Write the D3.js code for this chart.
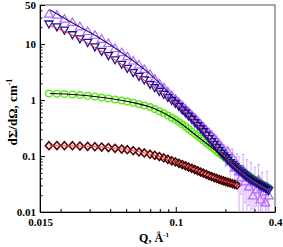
<!doctype html>
<html>
<head>
<meta charset="utf-8">
<style>
body { margin: 0; background: #fff; }
text { font-family: "Liberation Serif", "Times New Roman", serif; font-weight: bold; }
</style>
<script src="https://d3js.org/d3.v7.min.js"></script>
</head>
<body>
<svg width="283" height="247"></svg>
<script>
// scattering vector Q (1/A)
var q = [0.0170,0.0190,0.0211,0.0236,0.0262,0.0292,0.0323,0.0355,0.0390,0.0428,
	0.0470,0.0508,0.0552,0.0598,0.0644,0.0698,0.0745,0.0795,0.0845,0.0895,
	0.0945,0.0995,0.1045,0.1095,0.1145,0.1195,0.1250,0.1305,0.1360,0.1415,
	0.1470,0.1530,0.1590,0.1650,0.1710,0.1770,0.1830,0.1890,0.1950,0.2010,
	0.2070,0.2140,0.2210,0.2280,0.2350,0.2420,0.2490,0.2560,0.2630,0.2700,
	0.2780,0.2860,0.2940,0.3020,0.3100,0.3180,0.3260,0.3340,0.3420,0.3500,
	0.3580,0.3660];

var purple = [34.4,33.0,28.0,24.4,20.4,16.8,14.4,12.2,10.25,8.34,
	7.07,5.99,4.99,4.23,3.54,2.88,2.37,1.95,1.65,1.40,
	1.20,1.04,0.905,0.793,0.698,0.616,0.540,0.477,0.420,0.372,
	0.332,0.293,0.261,0.234,0.209,0.188,0.166,0.147,0.130,0.1055,
	0.119,0.0790,0.0932,0.0616,0.0698,0.0522,0.0408,0.0568,0.0346,0.0462,
	0.0281,0.0408,0.0194,0.0332,0.0248,0.0375,0.0164,0.0270,0.0229,0.0145,
	0.0281,0.0194];
var purpleErr = [0,0,0,0,0,0,0,0,0,0,
	0,0,0,0,0,0,0,0,0,0,
	0,0,0,0,0,0,0,0,0.01,0.012,
	0.012,0.015,0.015,0.018,0.02,0.02,0.025,0.025,0.03,0.04,
	0.03,0.05,0.04,0.035,0.04,0.045,0.02,0.05,0.02,0.04,
	0.015,0.036,0.008,0.03,0.012,0.033,0.006,0.024,0.01,0.006,
	0.025,0.01];
var blue = [22.9,20.3,17.8,14.7,12.4,10.7,8.94,7.42,6.22,5.25,
	4.36,3.69,3.10,2.65,2.30,1.91,1.66,1.43,1.26,1.11,
	0.983,0.869,0.767,0.664,0.587,0.518,0.454,0.396,0.350,0.309,
	0.273,0.236,0.204,0.181,0.160,0.141,0.125,0.112,0.101,0.0932,
	0.0841,0.0758,0.0698,0.0643,0.0592,0.0544,0.0512,0.0481,0.0452,0.0425,
	0.0399,0.0375,0.0360,0.0343,0.0326,0.0312,0.0299,0.0287,0.0275,0.0264,
	0.0253,0.0243];
var green = [1.31,1.30,1.28,1.26,1.23,1.19,1.16,1.11,1.07,1.025,
	0.983,0.944,0.894,0.844,0.800,0.752,0.692,0.632,0.579,0.529,
	0.483,0.443,0.406,0.369,0.336,0.305,0.275,0.248,0.227,0.207,
	0.190,0.173,0.157,0.145,0.133,0.122,0.113,0.1055,0.0981,0.0912,
	0.0847,0.0790,0.0733,0.0684,0.0637,0.0596,0.0561,0.0527,0.0495,0.0467,
	0.0439,0.0416,0.0394,0.0375,0.0357,0.0341,0.0326,0.0313,0.0301,0.0290,
	0.0281,0.0272];
var diamond = [0.153,0.154,0.153,0.153,0.151,0.149,0.147,0.1445,0.1415,0.1375,
	0.1335,0.130,0.1245,0.1184,0.1136,0.1081,0.1029,0.0981,0.0924,0.0872,
	0.0823,0.0783,0.0742,0.0704,0.0670,0.0634,0.0604,0.0572,0.0544,0.0518,
	0.0495,0.0471,0.0448,0.0430,0.0413,0.0398,0.0383,0.0371,0.0359,0.0348,
	0.0339,0.0330,0.0321,0.0313,0.0305];

// fitted curves
var fitQ = [0.0172,0.025,0.035,0.05,0.07,0.1,0.14,0.2,0.27,0.366];
var purpleFit = [41,21.8,12.5,6.2,2.88,1.02,0.38,0.115,0.045,0.0255];
var blueFit = [21.5,13.3,7.6,3.85,1.9,0.86,0.325,0.094,0.0425,0.0245];
var greenFit = [1.31,1.245,1.12,0.951,0.75,0.44,0.208,0.092,0.0467,0.0272];
var diamondFitQ = [0.0172,0.025,0.035,0.05,0.07,0.1,0.14,0.2,0.235];
var diamondFit = [0.153,0.152,0.145,0.131,0.108,0.079,0.0525,0.035,0.0305];

// ticks
var xTicks = [0.015,0.1,0.4];
var xTickLabels = ["0.015","0.1","0.4"];
var xMinor = [0.02,0.03,0.04,0.05,0.06,0.07,0.08,0.09,0.2,0.3];
var yTicks = [0.01,0.1,1,10,50];
var yTickLabels = ["0.01","0.1","1","10","50"];
var yMinor = [0.02,0.03,0.04,0.05,0.06,0.07,0.08,0.09,0.2,0.3,0.4,0.5,0.6,0.7,0.8,0.9,
	2,3,4,5,6,7,8,9,20,30,40];

var svg = d3.select("svg");
var L = 40, R = 275, T = 5, B = 212;
var x = d3.scaleLog().domain([0.015,0.4]).range([L,R]);
var y = d3.scaleLog().domain([0.01,50]).range([B,T]);

svg.append("defs").append("clipPath").attr("id","clip")
	.append("rect").attr("x",L).attr("y",T).attr("width",R-L).attr("height",B-T);

svg.append("rect").attr("x",L).attr("y",T).attr("width",R-L).attr("height",B-T)
	.attr("fill","none").attr("stroke","#555").attr("stroke-width",1);

var plot = svg.append("g").attr("clip-path","url(#clip)");

function pts(qs, vals) {
	return vals.map(function(v, i) { return {q: qs[i], v: v}; });
}

// error bars (purple set)
var errPts = purple.map(function(v, i) { return {q: q[i], v: v, e: purpleErr[i]}; })
	.filter(function(d) { return d.e > 0; });
var eg = plot.append("g").attr("stroke","#cfa4ff").attr("stroke-width",0.9);
errPts.forEach(function(d) {
	var lo = d.v - d.e > 0.01 ? y(d.v - d.e) : B + 2;
	var hi = y(d.v + d.e);
	var cx = x(d.q);
	eg.append("line").attr("x1",cx).attr("x2",cx).attr("y1",lo).attr("y2",hi);
	eg.append("line").attr("x1",cx-1.5).attr("x2",cx+1.5).attr("y1",hi).attr("y2",hi);
	if (d.v - d.e > 0.01)
		eg.append("line").attr("x1",cx-1.5).attr("x2",cx+1.5).attr("y1",lo).attr("y2",lo);
});

var triUp = "M0,-4.5L4.5,3L-4.5,3Z";
var triDown = "M0,4L4,-3L-4,-3Z";
var diam = "M0,-4L3.6,0L0,4L-3.6,0Z";

function markers(data, path, stroke, fill, fo, sw) {
	plot.append("g").selectAll("path").data(data).enter().append("path")
		.attr("d", path)
		.attr("transform", function(d) { return "translate(" + x(d.q) + "," + y(d.v) + ")"; })
		.attr("fill", fill).attr("fill-opacity", fo).attr("stroke", stroke).attr("stroke-width", sw);
}

markers(pts(q, diamond), diam, "#4a0000", "#f0b8b8", 0.3, 1.5);
plot.append("g").selectAll("circle").data(pts(q, green)).enter().append("circle")
	.attr("cx", function(d) { return x(d.q); })
	.attr("cy", function(d) { return y(d.v); })
	.attr("r", 3.3).attr("fill", "none").attr("stroke", "#62e81c").attr("stroke-width", 1.4);
markers(pts(q, purple), triUp, "#b466ff", "none", 1, 1.2);
markers(pts(q, blue), triDown, "#14149a", "none", 1, 1.3);

var line = d3.line().x(function(d) { return x(d.q); }).y(function(d) { return y(d.v); })
	.curve(d3.curveMonotoneX);
function fit(qs, vals, color, w) {
	plot.append("path").datum(pts(qs, vals)).attr("d", line)
		.attr("fill","none").attr("stroke", color).attr("stroke-width", w);
}
fit(diamondFitQ, diamondFit, "#ff3a3a", 0.9);
fit(fitQ, greenFit, "#000", 1.1);
fit(fitQ, blueFit, "#ff2a2a", 1.0);
fit(fitQ, purpleFit, "#1a1a6a", 1.1);

// axes
var xAxis = d3.axisBottom(x).tickValues(xTicks).tickFormat(function(d, i) { return xTickLabels[i]; })
	.tickSizeInner(-5).tickSizeOuter(0).tickPadding(6);
svg.append("g").attr("transform","translate(0," + B + ")").call(xAxis);
svg.append("g").attr("transform","translate(0," + B + ")")
	.call(d3.axisBottom(x).tickValues(xMinor).tickFormat("").tickSizeInner(-3).tickSizeOuter(0))
	.select(".domain").remove();

var yAxis = d3.axisLeft(y).tickValues(yTicks).tickFormat(function(d, i) { return yTickLabels[i]; })
	.tickSizeInner(-5).tickSizeOuter(0).tickPadding(4);
svg.append("g").attr("transform","translate(" + L + ",0)").call(yAxis);
svg.append("g").attr("transform","translate(" + L + ",0)")
	.call(d3.axisLeft(y).tickValues(yMinor).tickFormat("").tickSizeInner(-2.5).tickSizeOuter(0))
	.select(".domain").remove();

svg.selectAll(".tick text").attr("font-family", null).attr("font-size", 11).attr("fill","#000");
svg.selectAll(".domain, .tick line").attr("stroke","#000");

// axis titles
var yt = svg.append("text").attr("transform","translate(17,112) rotate(-90)")
	.attr("text-anchor","middle").attr("font-size",13);
yt.append("tspan").text("d\u03a3/d\u03a9, cm");
yt.append("tspan").attr("font-size",8).attr("dy",-5).text("-1");

var xt = svg.append("text").attr("x",154).attr("y",242)
	.attr("text-anchor","middle").attr("font-size",12);
xt.append("tspan").text("Q, \u00c5");
xt.append("tspan").attr("font-size",7).attr("dy",-5).text("-1");
</script>
</body>
</html>
